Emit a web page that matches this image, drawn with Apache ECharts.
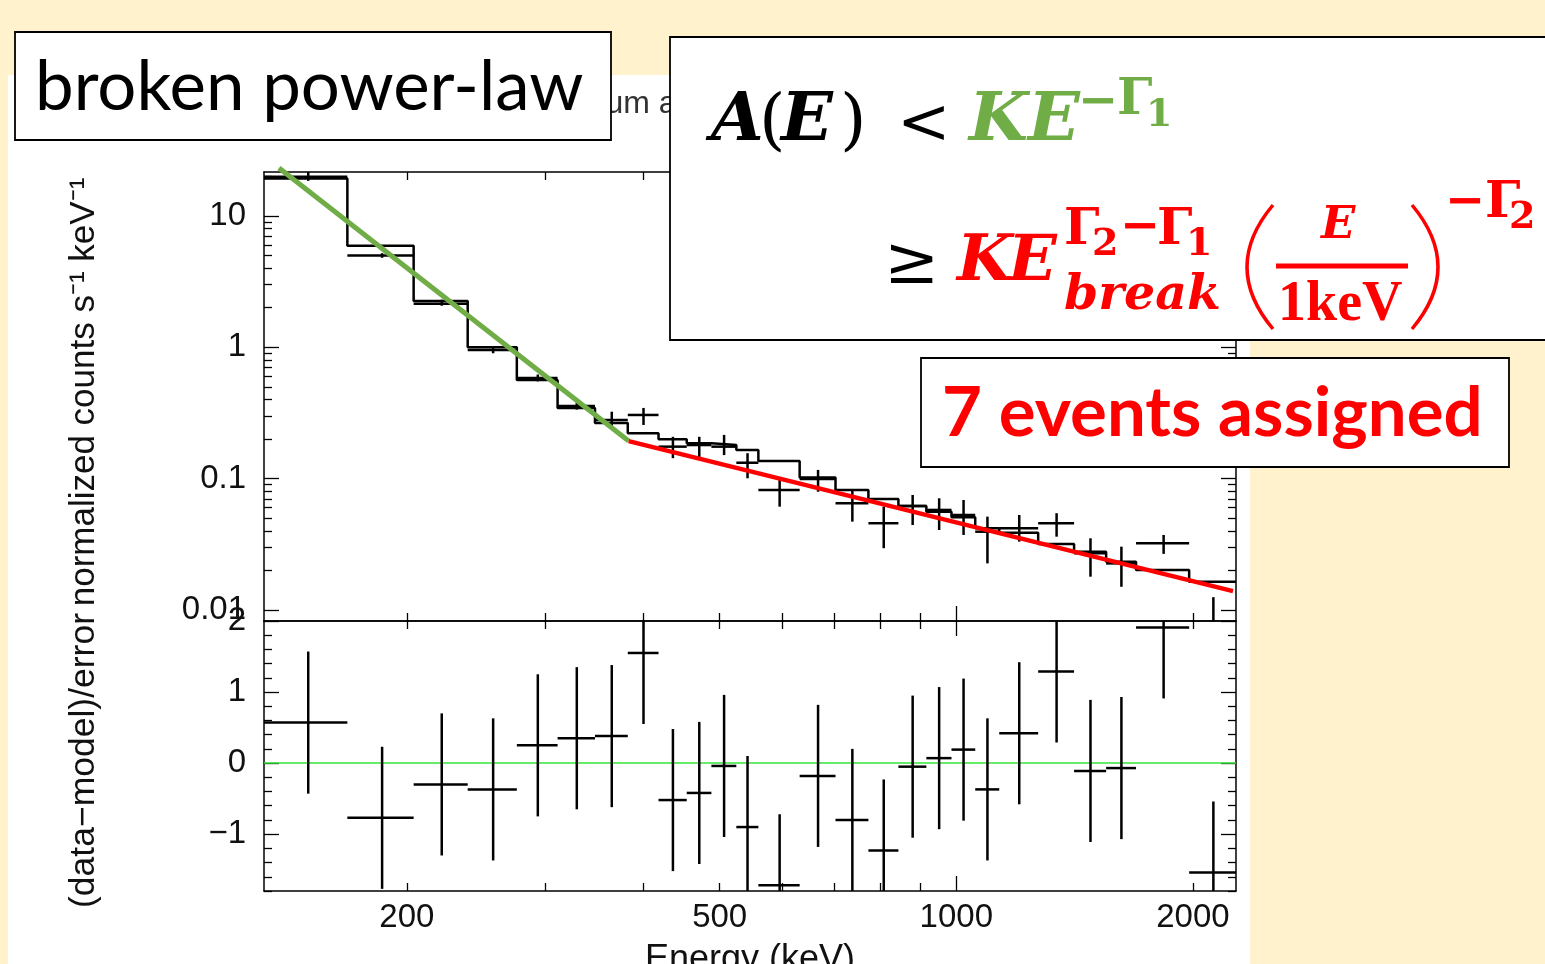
<!DOCTYPE html>
<html>
<head>
<meta charset="utf-8">
<title>broken power-law</title>
<script src="https://cdn.jsdelivr.net/npm/echarts@6/dist/echarts.min.js"></script>
<style>
html, body { margin: 0; padding: 0; background: #fff2cc; }
#main { width: 1545px; height: 964px; }
</style>
</head>
<body>
<div id="main"></div>
<script>
// bin edges in keV (26 bins)
var binEdges = [131.6, 168, 204, 239, 276, 311, 347, 382, 418, 454, 488, 525, 560,
	632, 702, 773, 844, 916, 986, 1057, 1134, 1271, 1412, 1551, 1693, 1978, 2269];
// folded model, counts s-1 keV-1
var modelRate = [19.3, 5.94, 2.25, 1.0, 0.564, 0.345, 0.265, 0.221, 0.199, 0.186, 0.180, 0.165, 0.136,
	0.102, 0.0818, 0.070, 0.0618, 0.0560, 0.0507, 0.0418, 0.0387, 0.0318, 0.0277, 0.0233, 0.0201, 0.0164];
// data points and their error bars
var dataRate = [19.9, 4.99, 2.14, 0.954, 0.584, 0.357, 0.279, 0.305, 0.175, 0.180, 0.175, 0.132, 0.0818,
	0.0993, 0.0649, 0.0457, 0.0618, 0.0577, 0.0528, 0.0394, 0.0418, 0.0457, 0.027, 0.0226, 0.0321, 0.005];
var dataLow = [18.5, 4.8, 2.07, 0.90, 0.55, 0.335, 0.248, 0.256, 0.143, 0.139, 0.151, 0.1005, 0.0611,
	0.0794, 0.047, 0.0295, 0.0443, 0.0406, 0.0372, 0.0226, 0.0331, 0.0361, 0.0179, 0.0150, 0.0267, 0.002];
var dataHigh = [22, 5.2, 2.3, 1.01, 0.62, 0.38, 0.323, 0.345, 0.208, 0.208, 0.215, 0.156, 0.1005,
	0.1164, 0.0818, 0.0611, 0.075, 0.0708, 0.0687, 0.0513, 0.0528, 0.0545, 0.0351, 0.0303, 0.0372, 0.0125];
// (data-model)/error
var residual = [0.57, -0.77, -0.30, -0.37, 0.25, 0.35, 0.38, 1.55, -0.52, -0.42, -0.04, -0.90, -1.72,
	-0.18, -0.80, -1.23, -0.05, 0.07, 0.19, -0.37, 0.42, 1.29, -0.11, -0.07, 1.91, -1.54];
var residualSigma = 1;

// hand drawn power-law segments (keV, counts s-1 keV-1)
var lowSlope = [[137.5, 23.2], [383, 0.193]];
var highSlope = [[383, 0.193], [2249, 0.0139]];

// axes
var energyLabels = [200, 500, 1000, 2000];
var energyMinorTicks = [200, 300, 400, 500, 600, 700, 800, 900, 2000];
var energyMajorTicks = [1000];
var rateLabels = [0.01, 0.1, 1, 10];
var rateMajorTicks = [0.01, 0.1, 1, 10];
var minorSteps = [2, 3, 4, 5, 6, 7, 8, 9];
var residLabels = [-1, 0, 1, 2];
var residMajorTicks = [-1, 0, 1, 2];
var residMinorTicks = [-1.8, -1.6, -1.4, -1.2, -0.8, -0.6, -0.4, -0.2, 0.2, 0.4, 0.6, 0.8,
	1.2, 1.4, 1.6, 1.8];

var E_MIN = 131.6, E_MAX = 2269;
var RATE_MIN = 0.00823, RATE_MAX = 21.6;
var RES_MIN = -1.8, RES_MAX = 2.0;

var GREEN = '#70ad47', RED = '#ff0000';
var axisFont = 'Liberation Sans';

var rateMinorTicks = [];
for (var d = 0; d < rateMajorTicks.length; d++) {
	for (var m = 0; m < minorSteps.length; m++) {
		rateMinorTicks.push(+(rateMajorTicks[d] * minorSteps[m]).toPrecision(3));
	}
}

function fmt(v) {
	return String(+(+v).toPrecision(6)).replace('-', '\u2212');
}

function makeAxis(type, grid, pos, range, ticks, len, showLine, labels) {
	var ax = {
		type: type, gridIndex: grid, position: pos, min: range[0], max: range[1],
		axisLine: { show: showLine, onZero: false, lineStyle: { color: '#000', width: 1.5 } },
		axisTick: { show: true, inside: true, length: len, customValues: ticks,
			lineStyle: { color: '#000', width: 1.3 } },
		axisLabel: { show: false },
		splitLine: { show: false },
		axisPointer: { show: false }
	};
	if (labels) {
		ax.axisLabel = { show: true, customValues: labels, formatter: fmt, color: '#111',
			fontFamily: axisFont, fontSize: 33, margin: pos == 'bottom' ? 10 : 18 };
	}
	return ax;
}

var eRange = [E_MIN, E_MAX], rRange = [RATE_MIN, RATE_MAX], sRange = [RES_MIN, RES_MAX];

var xAxes = [
	makeAxis('log', 0, 'bottom', eRange, energyMinorTicks, 8, true),
	makeAxis('log', 0, 'bottom', eRange, energyMajorTicks, 15, false),
	makeAxis('log', 0, 'top', eRange, energyMinorTicks, 8, true),
	makeAxis('log', 0, 'top', eRange, energyMajorTicks, 15, false),
	makeAxis('log', 1, 'bottom', eRange, energyMinorTicks, 8, true, energyLabels),
	makeAxis('log', 1, 'bottom', eRange, energyMajorTicks, 15, false),
	makeAxis('log', 1, 'top', eRange, energyMinorTicks, 8, true),
	makeAxis('log', 1, 'top', eRange, energyMajorTicks, 15, false)
];
var yAxes = [
	makeAxis('log', 0, 'left', rRange, rateMinorTicks, 8, true, rateLabels),
	makeAxis('log', 0, 'left', rRange, rateMajorTicks, 15, false),
	makeAxis('log', 0, 'right', rRange, rateMinorTicks, 8, true),
	makeAxis('log', 0, 'right', rRange, rateMajorTicks, 15, false),
	makeAxis('value', 1, 'left', sRange, residMinorTicks, 8, true, residLabels),
	makeAxis('value', 1, 'left', sRange, residMajorTicks, 15, false),
	makeAxis('value', 1, 'right', sRange, residMinorTicks, 8, true),
	makeAxis('value', 1, 'right', sRange, residMajorTicks, 15, false)
];

xAxes[4].name = 'Energy (keV)';
xAxes[4].nameLocation = 'middle';
xAxes[4].nameGap = 51;
xAxes[4].nameTextStyle = { color: '#111', fontFamily: axisFont, fontSize: 36 };
yAxes[0].name = 'normalized counts s\u207b\u00b9 keV\u207b\u00b9';
yAxes[0].nameLocation = 'middle';
yAxes[0].nameGap = 162;
yAxes[0].nameTextStyle = { color: '#111', fontFamily: axisFont, fontSize: 35, padding: [0, 0, 0, 9] };
yAxes[4].name = '(data\u2212model)/error';
yAxes[4].nameLocation = 'middle';
yAxes[4].nameGap = 162;
yAxes[4].nameTextStyle = { color: '#111', fontFamily: axisFont, fontSize: 35.5, padding: [0, 9, 0, 0] };

// series data
var modelSteps = [], dataCrosses = [], residCrosses = [];
for (var i = 0; i < modelRate.length; i++) {
	var lo = binEdges[i], hi = binEdges[i + 1], mid = (lo + hi) / 2;
	modelSteps.push([lo, modelRate[i]]);
	dataCrosses.push([lo, hi, mid, dataRate[i], dataLow[i], dataHigh[i]]);
	residCrosses.push([lo, hi, mid, residual[i], residual[i] - residualSigma, residual[i] + residualSigma]);
}
modelSteps.push([binEdges[binEdges.length - 1], modelRate[modelRate.length - 1]]);

function renderCross(params, api) {
	var cs = params.coordSys;
	var top = cs.y, bottom = cs.y + cs.height;
	var left = api.coord([api.value(0), api.value(3)]);
	var right = api.coord([api.value(1), api.value(3)]);
	var up = api.coord([api.value(2), api.value(5)]);
	var down = api.coord([api.value(2), api.value(4)]);
	var style = { stroke: '#000', lineWidth: 2.5 };
	var kids = [];
	var y1 = Math.max(top, Math.min(bottom, up[1]));
	var y2 = Math.max(top, Math.min(bottom, down[1]));
	if (y2 > y1) {
		kids.push({ type: 'line', shape: { x1: up[0], y1: y1, x2: down[0], y2: y2 }, style: style });
	}
	if (left[1] >= top && left[1] <= bottom) {
		kids.push({ type: 'line', shape: { x1: left[0], y1: left[1], x2: right[0], y2: right[1] }, style: style });
	}
	return { type: 'group', children: kids };
}

// slide overlay
var mathFont = '"DejaVu Serif"';
function mt(x, y, s, size, color, weight, italic, family) {
	return { type: 'text', z: 102, x: x, y: y, silent: true, style: {
		text: s, fill: color, verticalAlign: 'middle', align: 'left',
		font: (italic ? 'italic ' : '') + weight + ' ' + size + 'px ' + (family || mathFont) } };
}
function box(x, y, w, h) {
	return { type: 'rect', z: 100, silent: true, shape: { x: x, y: y, width: w, height: h },
		style: { fill: '#fff', stroke: '#000', lineWidth: 1.8 } };
}

var overlay = [
	{ type: 'rect', z: -10, silent: true, shape: { x: 8, y: 75, width: 1242, height: 889 }, style: { fill: '#fff' } },
	{ type: 'text', z: -5, x: 513, y: 104, silent: true, style: { text: 'Spectrum and model', fill: '#333',
		verticalAlign: 'middle', font: '32px "Liberation Sans"' } },
	box(15, 32, 596, 108),
	{ type: 'text', z: 101, x: 35, y: 88, silent: true, style: { text: 'broken power-law', fill: '#000',
		verticalAlign: 'middle', font: '69px Lato' } },
	box(670, 37, 900, 303),
	mt(711, 122, 'A', 68, '#000', 'bold', true),
	mt(759, 124, '(', 68, '#000', 'normal', false),
	mt(781, 122, 'E', 68, '#000', 'bold', true),
	mt(840, 124, ')', 68, '#000', 'normal', false),
	mt(897, 126, '<', 64, '#000', 'normal', false),
	mt(969, 122, 'K', 68, GREEN, 'bold', true),
	mt(1028, 122, 'E', 68, GREEN, 'bold', true),
	mt(1078, 104, '\u2212', 48, GREEN, 'bold', false),
	mt(1117, 101, '\u0393', 50, GREEN, 'bold', false),
	mt(1146, 116, '1', 38, GREEN, 'bold', false),
	mt(884, 266, '\u2265', 66, '#000', 'normal', false),
	mt(957, 263, 'K', 64, RED, 'bold', true),
	mt(1008, 263, 'E', 64, RED, 'bold', true),
	mt(1064, 231, '\u0393', 50, RED, 'bold', false),
	mt(1092, 245, '2', 38, RED, 'bold', false),
	mt(1120, 229, '\u2212', 48, RED, 'bold', false),
	mt(1157, 231, '\u0393', 50, RED, 'bold', false),
	mt(1186, 245, '1', 38, RED, 'bold', false),
	mt(1064, 296, 'break', 49, RED, 'bold', true),
	{ type: 'bezierCurve', z: 102, silent: true, shape: { x1: 1273, y1: 205, cpx1: 1221, cpy1: 267, x2: 1273, y2: 329 },
		style: { stroke: RED, lineWidth: 3.5, fill: null } },
	mt(1321, 226, 'E', 45, RED, 'bold', true),
	{ type: 'line', z: 102, silent: true, shape: { x1: 1276, y1: 266, x2: 1408, y2: 266 }, style: { stroke: RED, lineWidth: 5 } },
	mt(1278, 306, '1keV', 56, RED, 'bold', false, '"Liberation Serif"'),
	{ type: 'bezierCurve', z: 102, silent: true, shape: { x1: 1412, y1: 205, cpx1: 1464, cpy1: 267, x2: 1412, y2: 329 },
		style: { stroke: RED, lineWidth: 3.5, fill: null } },
	mt(1445, 204, '\u2212', 48, RED, 'bold', false),
	mt(1485, 204, '\u0393', 50, RED, 'bold', false),
	mt(1509, 218, '2', 38, RED, 'bold', false),
	box(921, 358, 588, 109),
	{ type: 'text', z: 101, x: 942, y: 414, silent: true, style: { text: '7 events assigned', fill: RED,
		verticalAlign: 'middle', font: 'bold 69px Lato' } }
];

var chart = echarts.init(document.getElementById('main'));
chart.setOption({
	animation: false,
	backgroundColor: '#fff2cc',
	grid: [
		{ left: 264, top: 172, width: 972, height: 449, containLabel: false, outerBoundsMode: 'none' },
		{ left: 264, top: 621, width: 972, height: 270, containLabel: false, outerBoundsMode: 'none' }
	],
	xAxis: xAxes,
	yAxis: yAxes,
	series: [
		{ type: 'line', xAxisIndex: 0, yAxisIndex: 0, step: 'end', data: modelSteps, symbol: 'none',
			lineStyle: { color: '#000', width: 2.5 }, z: 3 },
		{ type: 'custom', xAxisIndex: 0, yAxisIndex: 0, data: dataCrosses, renderItem: renderCross,
			encode: { x: [0, 1, 2], y: [3, 4, 5] }, z: 4 },
		{ type: 'line', xAxisIndex: 4, yAxisIndex: 4, data: [[E_MIN, 0], [E_MAX, 0]], symbol: 'none',
			lineStyle: { color: '#33e633', width: 1.5 }, z: 3 },
		{ type: 'custom', xAxisIndex: 4, yAxisIndex: 4, data: residCrosses, renderItem: renderCross,
			encode: { x: [0, 1, 2], y: [3, 4, 5] }, z: 4 },
		{ type: 'line', xAxisIndex: 0, yAxisIndex: 0, data: lowSlope, symbol: 'none', clip: false,
			lineStyle: { color: GREEN, width: 5 }, z: 10 },
		{ type: 'line', xAxisIndex: 0, yAxisIndex: 0, data: highSlope, symbol: 'none', clip: false,
			lineStyle: { color: RED, width: 4.5 }, z: 10 }
	],
	graphic: overlay
});
</script>
</body>
</html>
